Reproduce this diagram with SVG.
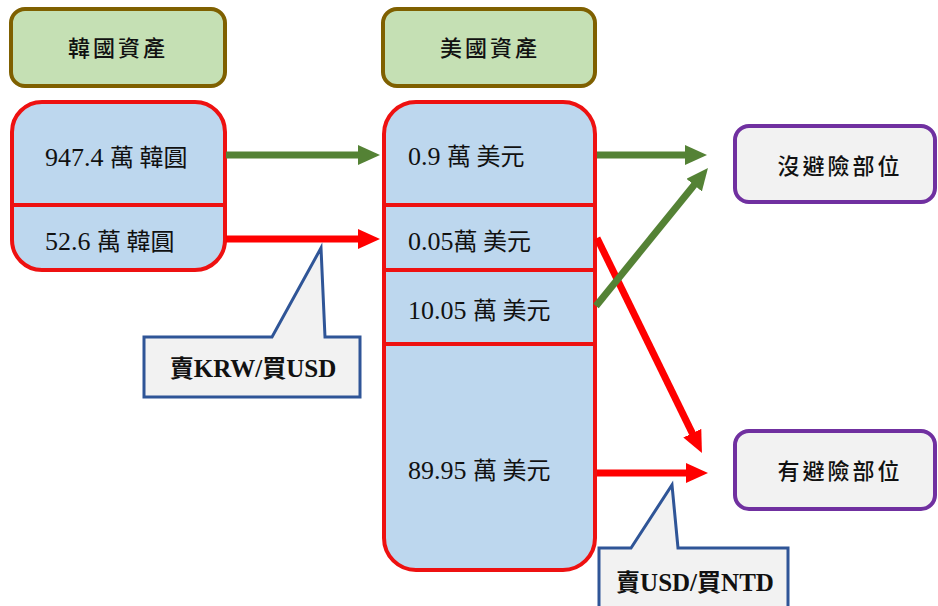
<svg xmlns="http://www.w3.org/2000/svg" width="938" height="606" viewBox="0 0 938 606">
  <style>
    .hdr { fill: #c5e0b4; stroke: #7f6000; stroke-width: 4; }
    .asset { fill: #bdd7ee; stroke: #ee1111; stroke-width: 4; }
    .div { stroke: #ee1111; stroke-width: 4; }
    .pos { fill: #f2f2f2; stroke: #7030a0; stroke-width: 4; }
    .call { fill: #f2f2f2; stroke: #2f5597; stroke-width: 3; stroke-linejoin: miter; }
    .t { font-family: "Noto Sans CJK TC", sans-serif; font-size: 24px; fill: #111; }
    .n { font-family: "Liberation Serif", serif; font-size: 26px; }
    .th { font-family: "Noto Sans CJK TC", sans-serif; font-size: 22px; font-weight: 500; fill: #111; letter-spacing: 3px; text-anchor: middle; }
    .tb { font-family: "Noto Sans CJK TC", sans-serif; font-size: 24px; font-weight: bold; fill: #111; text-anchor: middle; }
    .nb { font-family: "Liberation Serif", serif; font-size: 25px; font-weight: bold; }
    .g { stroke: #548235; stroke-width: 7; fill: none; }
    .r { stroke: #ff0000; stroke-width: 7; fill: none; }
  </style>
  <defs>
    <marker id="ahG" markerUnits="userSpaceOnUse" viewBox="0 0 24 20" markerWidth="24" markerHeight="20" refX="3" refY="10" orient="auto">
      <path d="M0,0 L22,10 L0,20 z" fill="#548235"/>
    </marker>
    <marker id="ahR" markerUnits="userSpaceOnUse" viewBox="0 0 24 20" markerWidth="24" markerHeight="20" refX="3" refY="10" orient="auto">
      <path d="M0,0 L22,10 L0,20 z" fill="#ff0000"/>
    </marker>
  </defs>

  <rect width="938" height="606" fill="#ffffff"/>

  <!-- headers -->
  <g id="kr-header">
    <rect class="hdr" x="11" y="9" width="214" height="77" rx="14"/>
    <text class="th" x="118" y="56">韓國資產</text>
  </g>
  <g id="us-header">
    <rect class="hdr" x="383" y="9" width="212" height="77" rx="14"/>
    <text class="th" x="490" y="56">美國資產</text>
  </g>

  <!-- Korean assets -->
  <g id="kr-assets">
    <rect class="asset" x="12" y="102" width="213" height="168" rx="30"/>
    <line class="div" x1="12" y1="205" x2="225" y2="205"/>
    <text class="t" x="45" y="166"><tspan class="n">947.4 </tspan>萬 韓圓</text>
    <text class="t" x="45" y="250"><tspan class="n">52.6 </tspan>萬 韓圓</text>
  </g>

  <!-- US assets -->
  <g id="us-assets">
    <rect class="asset" x="384" y="102" width="211" height="468" rx="32"/>
    <line class="div" x1="384" y1="205" x2="595" y2="205"/>
    <line class="div" x1="384" y1="270" x2="595" y2="270"/>
    <line class="div" x1="384" y1="344" x2="595" y2="344"/>
    <text class="t" x="408" y="165"><tspan class="n">0.9 </tspan>萬 美元</text>
    <text class="t" x="408" y="250"><tspan class="n">0.05</tspan>萬 美元</text>
    <text class="t" x="408" y="319"><tspan class="n">10.05 </tspan>萬 美元</text>
    <text class="t" x="408" y="479"><tspan class="n">89.95 </tspan>萬 美元</text>
  </g>

  <!-- positions -->
  <g id="unhedged">
    <rect class="pos" x="735" y="126" width="200" height="76" rx="14"/>
    <text class="th" x="840" y="174">沒避險部位</text>
  </g>
  <g id="hedged">
    <rect class="pos" x="735" y="431" width="200" height="78" rx="14"/>
    <text class="th" x="840" y="479">有避險部位</text>
  </g>

  <!-- connectors -->
  <g id="connectors">
    <line class="g" x1="226" y1="155" x2="361" y2="155" marker-end="url(#ahG)"/>
    <line class="r" x1="226" y1="239" x2="361" y2="239" marker-end="url(#ahR)"/>
    <line class="g" x1="597" y1="155" x2="688" y2="155" marker-end="url(#ahG)"/>
    <line class="r" x1="597" y1="238" x2="693.6" y2="435.9" marker-end="url(#ahR)"/>
    <line class="g" x1="596" y1="306" x2="696" y2="182.8" marker-end="url(#ahG)"/>
    <line class="r" x1="597" y1="473" x2="689" y2="473" marker-end="url(#ahR)"/>
  </g>

  <!-- callouts -->
  <g id="callout-krw">
    <path class="call" d="M144,337 L272,337 L321,248 L325,337 L360,337 L360,397 L144,397 Z"/>
    <text class="tb" x="253" y="377">賣<tspan class="nb">KRW/</tspan>買<tspan class="nb">USD</tspan></text>
  </g>
  <g id="callout-usd">
    <path class="call" d="M599,548 L631,548 L672,485 L678,548 L788,548 L788,620 L599,620 Z"/>
    <text class="tb" x="695" y="591">賣<tspan class="nb">USD/</tspan>買<tspan class="nb">NTD</tspan></text>
  </g>
</svg>
